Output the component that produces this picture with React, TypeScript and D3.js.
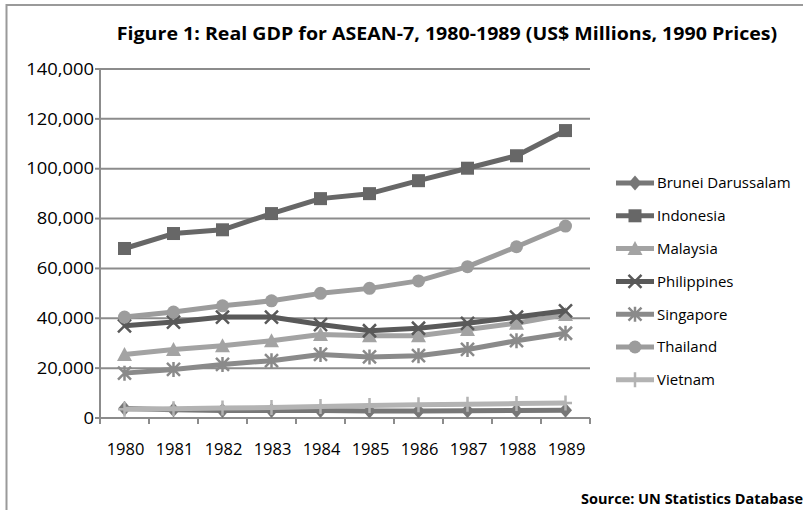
import React from 'react';
import * as d3 from 'd3';

const years = ['1980', '1981', '1982', '1983', '1984', '1985', '1986', '1987', '1988', '1989'];
const yTicks = [0, 20000, 40000, 60000, 80000, 100000, 120000, 140000];

const brunei = [3800, 3300, 3000, 3000, 3000, 2800, 2800, 2900, 3000, 3100];
const indonesia = [68000, 74000, 75500, 82000, 88000, 90000, 95200, 100200, 105200, 115300];
const malaysia = [25500, 27500, 29000, 31000, 33500, 33000, 33000, 35500, 38000, 41500];
const philippines = [37000, 38500, 40500, 40500, 37500, 35000, 36000, 38000, 40500, 43000];
const singapore = [18000, 19500, 21500, 23000, 25500, 24500, 25000, 27500, 31000, 34000];
const thailand = [40500, 42500, 45000, 47000, 50000, 52000, 55000, 60700, 68700, 77000];
const vietnam = [3500, 3700, 4000, 4200, 4600, 5000, 5300, 5500, 5800, 6000];

type Marker = 'diamond' | 'square' | 'triangle' | 'x' | 'star' | 'circle' | 'plus';

const series: { name: string; values: number[]; color: string; marker: Marker }[] = [
  { name: 'Brunei Darussalam', values: brunei, color: '#777777', marker: 'diamond' },
  { name: 'Indonesia', values: indonesia, color: '#676767', marker: 'square' },
  { name: 'Malaysia', values: malaysia, color: '#a3a3a3', marker: 'triangle' },
  { name: 'Philippines', values: philippines, color: '#595959', marker: 'x' },
  { name: 'Singapore', values: singapore, color: '#8a8a8a', marker: 'star' },
  { name: 'Thailand', values: thailand, color: '#9c9c9c', marker: 'circle' },
  { name: 'Vietnam', values: vietnam, color: '#b3b3b3', marker: 'plus' },
];

const FONT = '"Open Sans", "Liberation Sans", sans-serif';

const drawMarker = (m: Marker, cx: number, cy: number, color: string, key?: string) => {
  const s = 6.5;
  switch (m) {
    case 'diamond':
      return <path key={key} d={`M${cx},${cy - s - 1}L${cx + s},${cy}L${cx},${cy + s + 1}L${cx - s},${cy}Z`} fill={color} />;
    case 'square':
      return <rect key={key} x={cx - s} y={cy - s} width={s * 2} height={s * 2} fill={color} />;
    case 'triangle':
      return <path key={key} d={`M${cx},${cy - s - 1}L${cx + s + 1},${cy + s}L${cx - s - 1},${cy + s}Z`} fill={color} />;
    case 'circle':
      return <circle key={key} cx={cx} cy={cy} r={s} fill={color} />;
    case 'x':
      return (
        <path key={key} d={`M${cx - s},${cy - s}L${cx + s},${cy + s}M${cx - s},${cy + s}L${cx + s},${cy - s}`}
          stroke={color} strokeWidth={2.5} fill="none" />
      );
    case 'star':
      return (
        <path key={key} d={`M${cx - s},${cy - s}L${cx + s},${cy + s}M${cx - s},${cy + s}L${cx + s},${cy - s}M${cx},${cy - s - 1}L${cx},${cy + s + 1}`}
          stroke={color} strokeWidth={2.5} fill="none" />
      );
    case 'plus':
      return (
        <path key={key} d={`M${cx},${cy - s - 1}L${cx},${cy + s + 1}M${cx - s},${cy}L${cx + s},${cy}`}
          stroke={color} strokeWidth={2.5} fill="none" />
      );
  }
};

// text widened horizontally around its anchor point
const Wide = ({ x, y, sx, children, ...rest }: any) => (
  <text transform={`translate(${x},${y}) scale(${sx},1)`} {...rest}>{children}</text>
);

export default function App() {
  const width = 803;
  const height = 510;
  const plot = { left: 100, right: 590, top: 69, bottom: 418 };

  const x = d3.scaleBand<string>().domain(years).range([plot.left, plot.right]);
  const y = d3.scaleLinear().domain([0, 140000]).range([plot.bottom, plot.top]);
  const cx = (yr: string) => (x(yr) ?? 0) + x.bandwidth() / 2;
  const fmt = d3.format(',');

  const line = d3.line<number>()
    .x((_, i) => cx(years[i]))
    .y(d => y(d));

  const legendX = 616;
  const legendY0 = 183;
  const legendStep = 32.8;

  return (
    <svg width={width} height={height} style={{ position: 'absolute', left: 0, top: 0, background: '#fff' }}
      fontFamily={FONT}>
      <rect x={0} y={0} width={width} height={height} fill="#fff" />
      <rect x={6.5} y={5} width={width + 10} height={height + 10} fill="none" stroke="#9a9a9a" strokeWidth={2} />

      <Wide x={447} y={40} sx={1.12} textAnchor="middle" fontSize={17.5} fontWeight="bold" fill="#000">
        Figure 1: Real GDP for ASEAN-7, 1980-1989 (US$ Millions, 1990 Prices)
      </Wide>

      {/* gridlines */}
      {yTicks.filter(t => t > 0).map(t => (
        <line key={t} x1={plot.left} x2={plot.right} y1={y(t)} y2={y(t)} stroke="#8c8c8c" strokeWidth={2} />
      ))}

      {/* y axis */}
      <line x1={plot.left} x2={plot.left} y1={plot.top} y2={plot.bottom} stroke="#8c8c8c" strokeWidth={2} />
      {yTicks.map(t => (
        <g key={t}>
          <line x1={plot.left - 5} x2={plot.left} y1={y(t)} y2={y(t)} stroke="#8c8c8c" strokeWidth={2} />
          <Wide x={plot.left - 6} y={y(t)} sx={1.15} dy="0.36em" textAnchor="end" fontSize={16} fill="#000">
            {fmt(t)}
          </Wide>
        </g>
      ))}

      {/* x axis */}
      <line x1={plot.left - 5} x2={plot.right} y1={plot.bottom} y2={plot.bottom} stroke="#8c8c8c" strokeWidth={2} />
      {[...years.map(yr => x(yr) ?? 0), plot.right].map((px, i) => (
        <line key={i} x1={px} x2={px} y1={plot.bottom} y2={plot.bottom + 6} stroke="#8c8c8c" strokeWidth={2} />
      ))}
      {years.map(yr => (
        <Wide key={yr} x={cx(yr) + 1} y={455} sx={1.03} textAnchor="middle" fontSize={16} fill="#000">{yr}</Wide>
      ))}

      {/* series */}
      {series.map(s => (
        <g key={s.name}>
          <path d={line(s.values) ?? ''} fill="none" stroke={s.color} strokeWidth={5} strokeLinejoin="round" />
          {s.values.map((v, i) => drawMarker(s.marker, cx(years[i]), y(v), s.color, `${s.name}-${i}`))}
        </g>
      ))}

      {/* legend */}
      {series.map((s, i) => {
        const ly = legendY0 + i * legendStep;
        return (
          <g key={s.name}>
            <line x1={legendX} x2={legendX + 38} y1={ly} y2={ly} stroke={s.color} strokeWidth={5} />
            {drawMarker(s.marker, legendX + 19, ly, s.color)}
            <text x={legendX + 41} y={ly} dy="0.36em" fontSize={15} fill="#000">{s.name}</text>
          </g>
        );
      })}

      <text x={803} y={504} textAnchor="end" fontSize={14.5} fontWeight="bold" fill="#000">
        Source: UN Statistics Database
      </text>
    </svg>
  );
}
